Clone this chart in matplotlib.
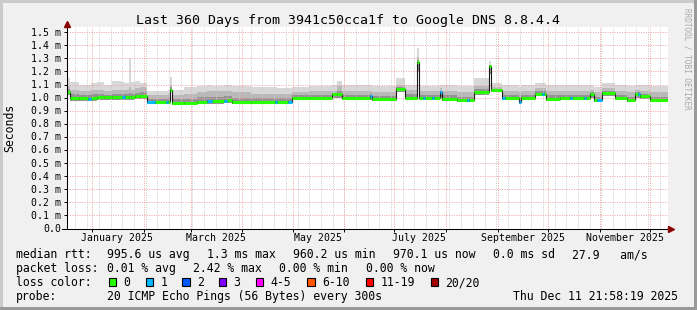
#Smokeping style latency graph, redrawn with matplotlib

import matplotlib
matplotlib.use("Agg")
import matplotlib.pyplot as plt
from matplotlib.patches import Rectangle
from matplotlib import transforms
import numpy as np
from datetime import datetime, timedelta

#Chart data (days since start of window, values in ms)
end_time = datetime(2025, 12, 11, 21, 58, 19)
span_days = 360

seg_day = [0.0, 1.8, 7.0, 12.6, 14.4, 18.0, 22.0, 27.0, 33.0, 34.8,
           37.1, 38.3, 40.7, 44.0, 47.9, 52.7, 59.3, 60.5, 61.7, 62.9,
           70.0, 77.9, 83.9, 86.9, 94.1, 95.9, 98.9, 110.0, 124.6, 125.8,
           132.4, 134.8, 145.0, 158.8, 161.8, 164.8, 181.5, 182.7, 197.1, 202.5,
           209.7, 210.9, 213.3, 214.5, 218.7, 219.9, 223.5, 224.7, 233.7, 239.7,
           240.9, 243.9, 252.8, 254.1, 260.6, 262.4, 270.8, 272.0, 280.4, 284.6,
           285.8, 287.0, 295.4, 301.4, 302.6, 309.8, 311.0, 313.4, 315.8, 317.6,
           320.6, 328.3, 335.5, 340.3, 342.1, 343.3, 349.3]

seg_median = [1.045, 0.995, 0.995, 0.993, 0.995, 1.002, 1.002, 1.004, 1.005, 1.005,
              1.006, 1.006, 1.012, 1.012, 0.968, 0.965, 0.965, 0.970, 1.060, 0.962,
              0.960, 0.970, 0.975, 0.975, 0.978, 0.980, 0.967, 0.967, 0.965, 0.968,
              0.968, 1.000, 1.000, 1.025, 1.025, 1.000, 1.010, 0.990, 1.065, 1.000,
              1.270, 1.000, 1.000, 1.000, 1.000, 1.000, 1.040, 0.990, 0.980, 0.980,
              0.980, 1.040, 1.240, 1.060, 1.000, 1.000, 0.970, 1.000, 1.030, 1.030,
              1.030, 0.990, 1.000, 1.000, 1.000, 0.995, 1.000, 1.030, 0.980, 0.980,
              1.035, 1.000, 0.980, 1.030, 1.030, 1.010, 0.980]

seg_loss = [0, 0, 0, 1, 0, 0, 0, 0, 1, 0,
            0, 0, 0, 0, 1, 0, 1, 0, 0, 0,
            0, 0, 1, 0, 1, 0, 0, 0, 1, 0,
            1, 0, 0, 0, 0, 0, 1, 0, 0, 0,
            0, 0, 1, 0, 1, 0, 1, 0, 0, 1,
            0, 0, 0, 0, 1, 0, 1, 0, 0, 1,
            0, 0, 0, 1, 0, 1, 0, 0, 0, 1,
            0, 0, 0, 0, 1, 0, 0]

seg_top = [1.15, 1.12, 1.10, 1.10, 1.11, 1.12, 1.10, 1.13, 1.12, 1.11,
           1.30, 1.12, 1.13, 1.11, 1.05, 1.05, 1.05, 1.06, 1.16, 1.06,
           1.08, 1.09, 1.10, 1.09, 1.10, 1.10, 1.09, 1.08, 1.08, 1.07,
           1.07, 1.08, 1.09, 1.10, 1.13, 1.10, 1.10, 1.09, 1.15, 1.10,
           1.38, 1.09, 1.09, 1.09, 1.09, 1.09, 1.10, 1.10, 1.09, 1.09,
           1.09, 1.15, 1.28, 1.11, 1.10, 1.10, 1.08, 1.10, 1.11, 1.11,
           1.11, 1.10, 1.10, 1.10, 1.10, 1.10, 1.10, 1.10, 1.08, 1.08,
           1.11, 1.10, 1.09, 1.10, 1.10, 1.10, 1.09]

seg_mid = [1.09, 1.06, 1.05, 1.05, 1.06, 1.06, 1.05, 1.06, 1.06, 1.06,
           1.08, 1.06, 1.07, 1.08, 1.02, 1.02, 1.02, 1.03, 1.10, 1.02,
           1.03, 1.04, 1.05, 1.05, 1.05, 1.05, 1.04, 1.03, 1.03, 1.03,
           1.03, 1.04, 1.05, 1.05, 1.09, 1.05, 1.05, 1.04, 1.10, 1.06,
           1.31, 1.05, 1.05, 1.05, 1.05, 1.05, 1.07, 1.05, 1.04, 1.04,
           1.04, 1.09, 1.25, 1.08, 1.05, 1.05, 1.04, 1.05, 1.07, 1.07,
           1.07, 1.05, 1.05, 1.05, 1.05, 1.05, 1.05, 1.06, 1.04, 1.04,
           1.07, 1.05, 1.04, 1.06, 1.06, 1.05, 1.04]

seg_low = [1.02, 0.975, 0.975, 0.975, 0.975, 0.98, 0.98, 0.98, 0.98, 0.98,
           0.98, 0.98, 0.99, 0.99, 0.95, 0.95, 0.95, 0.95, 1.04, 0.945,
           0.945, 0.95, 0.955, 0.955, 0.96, 0.96, 0.95, 0.95, 0.95, 0.95,
           0.95, 0.985, 0.985, 1.0, 1.0, 0.985, 0.985, 0.975, 1.04, 0.985,
           1.2, 0.985, 0.985, 0.985, 0.985, 0.985, 1.0, 0.975, 0.965, 0.965,
           0.965, 1.02, 1.18, 1.04, 0.985, 0.985, 0.955, 0.985, 1.01, 1.01,
           1.01, 0.975, 0.985, 0.985, 0.985, 0.98, 0.985, 1.0, 0.965, 0.965,
           1.01, 0.985, 0.965, 1.0, 1.0, 0.99, 0.965]

y_ticks = [0.0, 0.1, 0.2, 0.3, 0.4, 0.5, 0.6, 0.7, 0.8, 0.9, 1.0, 1.1, 1.2, 1.3, 1.4, 1.5]
y_labels = ["0.0", "0.1 m", "0.2 m", "0.3 m", "0.4 m", "0.5 m", "0.6 m", "0.7 m",
            "0.8 m", "0.9 m", "1.0 m", "1.1 m", "1.2 m", "1.3 m", "1.4 m", "1.5 m"]
label_months = [(2025, 1), (2025, 3), (2025, 5), (2025, 7), (2025, 9), (2025, 11)]

loss_labels = ["0", "1", "2", "3", "4-5", "6-10", "11-19", "20/20"]
loss_colors = ["#26ff00", "#00b8ff", "#0059ff", "#7e00ff", "#ff00ff", "#ff5500", "#ff0000", "#a10000"]

title = "Last 360 Days from 3941c50cca1f to Google DNS 8.8.4.4"
rtt_items = ["995.6 us avg", "1.3 ms max", "960.2 us min", "970.1 us now", "0.0 ms sd", "27.9   am/s"]
pl_items = ["0.01 % avg", "2.42 % max", "0.00 % min", "0.00 % now"]
probe_text = "20 ICMP Echo Pings (56 Bytes) every 300s"
stamp_text = "Thu Dec 11 21:58:19 2025"

#Layout (pixels)
W, H = 697, 310
MONO = "DejaVu Sans Mono"
LEG = 8.3
start_time = end_time - timedelta(days=span_days)


def day_of(dt):
    return (dt - start_time).total_seconds() / 86400.0


def fx(x):
    return x / W


def fy(y):
    return 1 - y / H


fig = plt.figure(figsize=(W / 100, H / 100), dpi=100, facecolor="#f0f0f0")

#3d frame
fig.add_artist(Rectangle((0, fy(3)), 1, 3 / H, transform=fig.transFigure, color="#cbcbcb", lw=0))
fig.add_artist(Rectangle((0, 0), 3 / W, 1, transform=fig.transFigure, color="#cbcbcb", lw=0))
fig.add_artist(Rectangle((0, 0), 1, 3 / H, transform=fig.transFigure, color="#999999", lw=0))
fig.add_artist(Rectangle((fx(694), 0), 3 / W, 1, transform=fig.transFigure, color="#999999", lw=0))

ax = fig.add_axes([fx(67), fy(228.5), 601 / W, 201.5 / H])
ax.set_facecolor("white")
ax.set_xlim(0, span_days)
ax.set_ylim(0, 1.54)
for s in ax.spines.values():
    s.set_visible(False)

edges = np.array(seg_day + [span_days])
med = np.array(seg_median)
loss = np.array(seg_loss)
top = np.array(seg_top)
mid = np.array(seg_mid)
low = np.array(seg_low)

#Smoke
ax.stairs(top, edges, baseline=low, fill=True, color="#d8d8d8", lw=0, zorder=1)
ax.stairs(mid, edges, baseline=low, fill=True, color="#b9b9b9", lw=0, zorder=1)
ax.stairs(med + (mid - med) * 0.45, edges, baseline=low, fill=True, color="#939393", lw=0, zorder=1)
ax.stairs(med + 0.006, edges, baseline=med - 0.012, fill=True, color="#585858", lw=0, zorder=1)

#Grid
month_starts = [datetime(2025, m, 1) for m in range(1, 13)]
first_sunday = start_time + timedelta(days=(6 - start_time.weekday()) % 7)
first_sunday = datetime(first_sunday.year, first_sunday.month, first_sunday.day)
week_days = []
d = first_sunday
while d < end_time:
    week_days.append(day_of(d))
    d += timedelta(days=7)
dots = (0, (1, 1.4))
for wd in week_days:
    ax.axvline(wd, color="#cbcbcb", lw=0.72, ls=dots, zorder=2, snap=True)
for ms in month_starts:
    ax.axvline(day_of(ms), color="#f0a4a4", lw=0.72, ls=dots, zorder=2, snap=True)
for yv in y_ticks[1:]:
    ax.axhline(yv, color="#f0a4a4", lw=0.72, ls=dots, zorder=2, snap=True)

#Median line coloured by loss
ax.stairs(med, edges, baseline=None, color="#1a1a1a", lw=0.8, zorder=3)
for k in range(2):
    m = loss == k
    ax.hlines(med[m], edges[:-1][m], edges[1:][m], colors=loss_colors[k], lw=2.2, zorder=4)

#Axes with arrows
ax.plot([0, 0], [0, 1.55], color="black", lw=0.75, clip_on=False, zorder=5)
ax.plot([-3, 361], [0, 0], color="black", lw=0.75, clip_on=False, zorder=5)
ax.plot(0, 1.565, marker="^", ms=4, color="#8b0000", clip_on=False, zorder=6)
ax.plot(361.5, 0, marker=">", ms=4, color="#8b0000", clip_on=False, zorder=6)

ax.set_yticks(y_ticks)
ax.set_yticklabels([])
ax.set_xticks([day_of(ms) for ms in month_starts])
ax.set_xticklabels([])
ax.tick_params(axis="both", direction="out", length=2.2, width=0.7, color="black")

ytrans = transforms.offset_copy(ax.get_yaxis_transform(), fig=fig, x=-6, y=-3.5, units="dots")
for yv, lab in zip(y_ticks, y_labels):
    ax.text(0, yv, lab, transform=ytrans, ha="right", va="baseline", family=MONO, fontsize=7.1)

xtrans = transforms.offset_copy(ax.get_xaxis_transform(), fig=fig, x=0, y=-12.5, units="dots")
for yr, mo in label_months:
    dt = datetime(yr, mo, 1)
    ax.text(day_of(dt) + 15, 0, dt.strftime("%B %Y"), transform=xtrans, ha="center",
            va="baseline", family=MONO, fontsize=7.1)

#Title, unit, watermark
fig.text(fx(348), fy(23.8), title, ha="center", va="baseline", family=MONO, fontsize=9.5)
fig.text(fx(10), fy(128), "Seconds", ha="center", va="center", rotation=90, family=MONO, fontsize=8.3)
fig.text(fx(687), fy(59), "RRDTOOL / TOBI OETIKER", ha="center", va="center", rotation=270,
         family=MONO, fontsize=5.5, color="#a8a8a8")

#Legend
fig.text(fx(16), fy(258.3), "median rtt:", family=MONO, fontsize=LEG, va="baseline")
for txt, x in zip(rtt_items, [107.3, 207.3, 293.3, 393.3, 493.3, 572.3]):
    fig.text(fx(x), fy(258.3), txt, family=MONO, fontsize=LEG, va="baseline")

fig.text(fx(16), fy(272.3), "packet loss:", family=MONO, fontsize=LEG, va="baseline")
for txt, x in zip(pl_items, [107.3, 193.3, 279.3, 365.7]):
    fig.text(fx(x), fy(272.3), txt, family=MONO, fontsize=LEG, va="baseline")

fig.text(fx(16), fy(286.3), "loss color:", family=MONO, fontsize=LEG, va="baseline")
box_x = [108.7, 146.0, 182.3, 219.0, 255.7, 307.3, 365.7, 430.7]
for lab, col, bx in zip(loss_labels, loss_colors, box_x):
    fig.add_artist(Rectangle((fx(bx), fy(286)), 7.3 / W, 7.7 / H, transform=fig.transFigure,
                             facecolor=col, edgecolor="black", lw=0.8))
    fig.text(fx(bx + 14.6), fy(286.3), lab, family=MONO, fontsize=LEG, va="baseline")

fig.text(fx(16), fy(300), "probe:", family=MONO, fontsize=LEG, va="baseline")
fig.text(fx(107.3), fy(300), probe_text, family=MONO, fontsize=LEG, va="baseline")
fig.text(fx(512.7), fy(300), stamp_text, family=MONO, fontsize=LEG, va="baseline")

fig.savefig("out.png", dpi=100, facecolor=fig.get_facecolor())
